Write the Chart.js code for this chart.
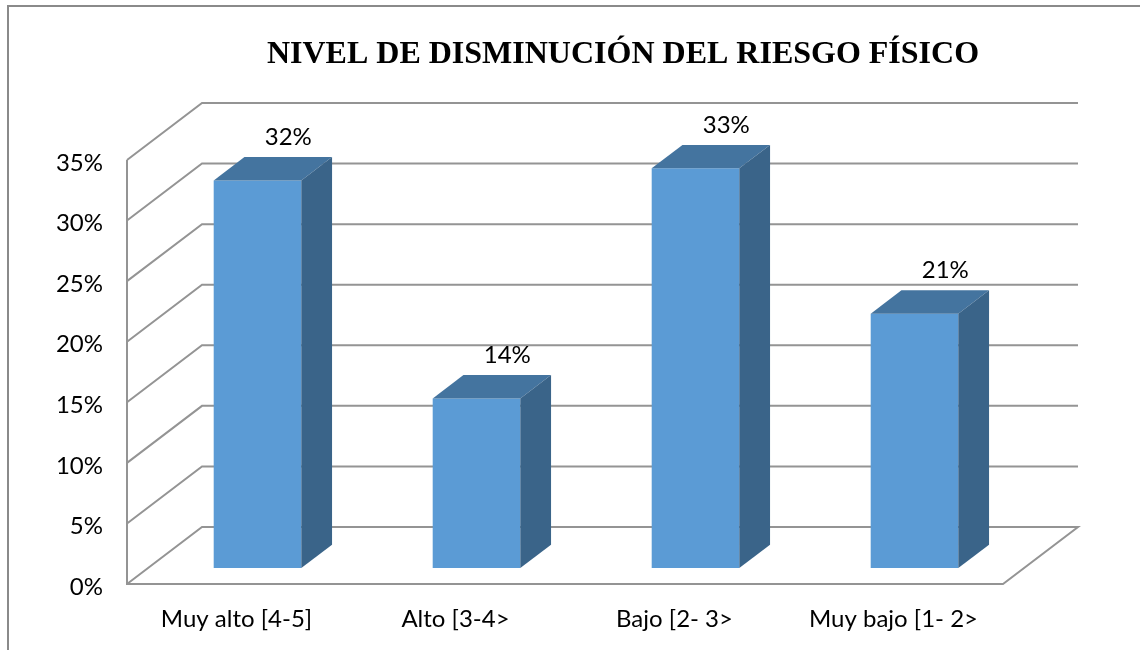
<!DOCTYPE html>
<html>
<head>
<meta charset="utf-8">
<title>Nivel de disminución del riesgo físico</title>
<script src="https://cdn.jsdelivr.net/npm/chart.js@4.4.1/dist/chart.umd.min.js"></script>
<style>
  html, body { margin: 0; padding: 0; background: #fff; }
  #wrap { position: relative; width: 1140px; height: 650px; }
</style>
</head>
<body>
<div id="wrap"><canvas id="barChart"></canvas></div>
<script>
  'use strict';

  var categories = ['Muy alto [4-5]', 'Alto [3-4>', 'Bajo [2- 3>', 'Muy bajo [1- 2>'];
  var porcentajes = [32, 14, 33, 21];
  var yTicks = [0, 5, 10, 15, 20, 25, 30, 35];
  var titulo = 'NIVEL DE DISMINUCIÓN DEL RIESGO FÍSICO';

  // profundidad del "3D"
  var DEPTH_X = 75, DEPTH_Y = -57;
  var BAR_OFF = 0.28, BAR_DEPTH = 0.41;
  var GRID = '#949494';
  var FONT = 'Lato, "Open Sans", sans-serif';

  var chart3d = {
    id: 'chart3d',
    beforeDraw: function(chart) {
      var ctx = chart.ctx;
      ctx.save();
      ctx.strokeStyle = '#8a8a8a';
      ctx.lineWidth = 2;
      ctx.beginPath();
      ctx.moveTo(8, chart.height);
      ctx.lineTo(8, 6);
      ctx.lineTo(chart.width, 6);
      ctx.stroke();

      ctx.fillStyle = '#000';
      ctx.font = 'bold 32px "Liberation Serif", "Times New Roman", serif';
      ctx.textAlign = 'center';
      ctx.textBaseline = 'middle';
      ctx.fillText(titulo, 623, 55);
      ctx.restore();
    },
    beforeDatasetsDraw: function(chart) {
      var ctx = chart.ctx, a = chart.chartArea, y = chart.scales.y;
      ctx.save();
      ctx.strokeStyle = GRID;
      ctx.lineWidth = 2;
      yTicks.forEach(function(v) {
        if (v === 0) return;
        var py = y.getPixelForValue(v);
        ctx.beginPath();
        ctx.moveTo(a.left, py);
        ctx.lineTo(a.left + DEPTH_X, py + DEPTH_Y);
        ctx.lineTo(a.right + DEPTH_X, py + DEPTH_Y);
        ctx.stroke();
      });
      // pared izquierda y piso
      ctx.beginPath();
      ctx.moveTo(a.left, a.top);
      ctx.lineTo(a.left, a.bottom);
      ctx.lineTo(a.right, a.bottom);
      ctx.lineTo(a.right + DEPTH_X, a.bottom + DEPTH_Y);
      ctx.lineTo(a.left + DEPTH_X, a.bottom + DEPTH_Y);
      ctx.lineTo(a.left, a.bottom);
      ctx.stroke();
      ctx.restore();

      ctx.save();
      ctx.translate(DEPTH_X * BAR_OFF, DEPTH_Y * BAR_OFF);
    },
    afterDatasetsDraw: function(chart) {
      var ctx = chart.ctx;
      var dx = DEPTH_X * BAR_DEPTH, dy = DEPTH_Y * BAR_DEPTH;
      var meta = chart.getDatasetMeta(0);
      meta.data.forEach(function(bar, i) {
        var p = bar.getProps(['x', 'y', 'base', 'width'], true);
        var l = p.x - p.width / 2, r = p.x + p.width / 2;
        // cara superior
        ctx.fillStyle = '#44749f';
        ctx.beginPath();
        ctx.moveTo(l, p.y);
        ctx.lineTo(l + dx, p.y + dy);
        ctx.lineTo(r + dx, p.y + dy);
        ctx.lineTo(r, p.y);
        ctx.closePath();
        ctx.fill();
        // cara lateral
        ctx.fillStyle = '#3a6489';
        ctx.beginPath();
        ctx.moveTo(r, p.y);
        ctx.lineTo(r + dx, p.y + dy);
        ctx.lineTo(r + dx, p.base + dy);
        ctx.lineTo(r, p.base);
        ctx.closePath();
        ctx.fill();
        // etiqueta
        ctx.fillStyle = '#000';
        ctx.font = '24px ' + FONT;
        ctx.textAlign = 'center';
        ctx.textBaseline = 'middle';
        ctx.fillText(porcentajes[i] + '%', p.x + dx, p.y + dy - 20);
      });
      ctx.restore();
    }
  };

  function barChartFactory() {
    var ctx = document.getElementById('barChart').getContext('2d');

    new Chart(ctx, {
      type: 'bar',
      data: {
        labels: categories,
        datasets: [{
          label: 'Porcentaje',
          data: porcentajes,
          backgroundColor: '#5b9bd5',
          borderWidth: 0,
          categoryPercentage: 1,
          barPercentage: 0.4
        }]
      },
      options: {
        responsive: true,
        maintainAspectRatio: false,
        animation: false,
        layout: { padding: { top: 160, right: 137, left: 0, bottom: 0 } },
        plugins: {
          legend: { display: false },
          title: { display: false },
          tooltip: { enabled: false }
        },
        scales: {
          x: {
            grid: { display: false, drawTicks: false },
            border: { display: false },
            ticks: {
              color: '#000',
              padding: 21,
              maxRotation: 0,
              font: { family: FONT, size: 24 }
            },
            afterFit: function(s) { s.height = 66; }
          },
          y: {
            min: 0,
            max: 35,
            grid: { display: false, drawTicks: false },
            border: { display: false },
            afterBuildTicks: function(s) {
              s.ticks = yTicks.map(function(v) { return { value: v }; });
            },
            ticks: {
              color: '#000',
              padding: 24,
              labelOffset: 3,
              font: { family: FONT, size: 24 },
              callback: function(v) { return v + '%'; }
            },
            afterFit: function(s) { s.width = 127; }
          }
        }
      },
      plugins: [chart3d]
    });
  }

  barChartFactory();
</script>
</body>
</html>
